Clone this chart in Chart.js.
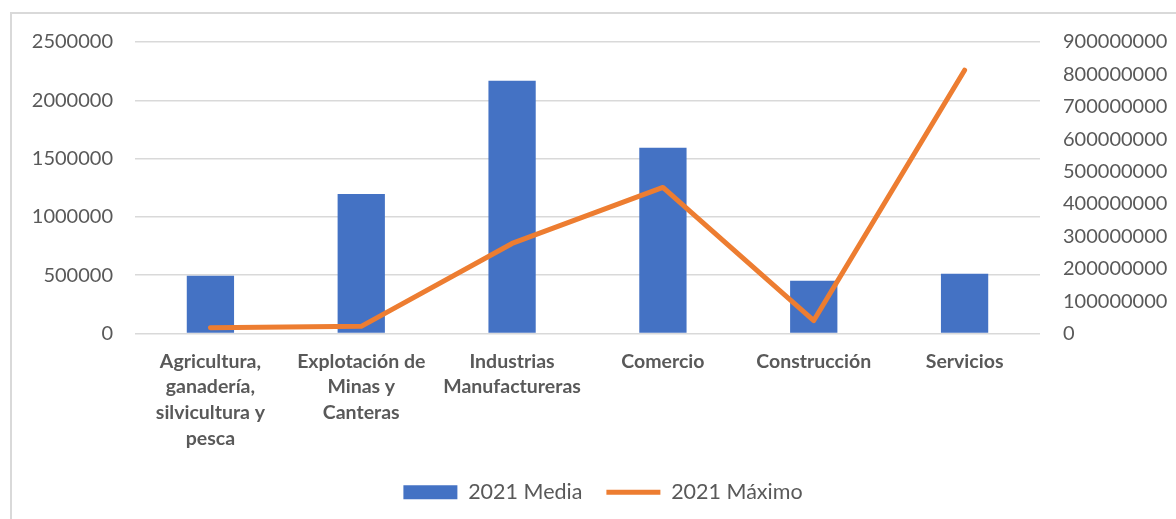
<!DOCTYPE html>
<html>
<head>
<meta charset="utf-8">
<script src="https://cdn.jsdelivr.net/npm/chart.js@4"></script>
<style>
    html, body { margin: 0; padding: 0; background: #fff; overflow: hidden; }
    .frame { position: absolute; left: 10px; top: 12px; width: 1300px; height: 600px; border: 2px solid #d9d9d9; }
    .chart-box { position: absolute; left: 0; top: 0; width: 1176px; height: 519px; }
</style>
</head>
<body>
<div class="frame"></div>
<div class="chart-box"><canvas id="chart"></canvas></div>
<script>
// chart data
const categories = [
    ['Agricultura,', 'ganadería,', 'silvicultura y', 'pesca'],
    ['Explotación de', 'Minas y', 'Canteras'],
    ['Industrias', 'Manufactureras'],
    ['Comercio'],
    ['Construcción'],
    ['Servicios']
];
const mediaValues = [495000, 1196000, 2168000, 1593000, 453000, 513000];
const maximoValues = [17600000, 22000000, 278000000, 451000000, 40000000, 813000000];
const leftTicks = [0, 500000, 1000000, 1500000, 2000000, 2500000];
const rightTicks = [0, 100000000, 200000000, 300000000, 400000000, 500000000, 600000000, 700000000, 800000000, 900000000];

const textColor = '#595959';
const gridColor = '#d9d9d9';

new Chart(document.getElementById('chart'), {
    type: 'bar',
    data: {
        labels: categories,
        datasets: [
            {
                label: '2021 Media',
                data: mediaValues,
                backgroundColor: '#4472C4',
                borderWidth: 0,
                yAxisID: 'y',
                order: 2,
                categoryPercentage: 1,
                barPercentage: 0.3135,
                pointStyle: 'rect'
            },
            {
                type: 'line',
                label: '2021 Máximo',
                data: maximoValues,
                borderColor: '#ED7D31',
                backgroundColor: '#ED7D31',
                borderWidth: 5,
                borderCapStyle: 'round',
                borderJoinStyle: 'round',
                pointRadius: 0,
                tension: 0,
                yAxisID: 'y1',
                order: 1,
                pointStyle: 'line'
            }
        ]
    },
    options: {
        responsive: true,
        maintainAspectRatio: false,
        animation: false,
        layout: { padding: { top: 42, bottom: 6, left: 30, right: 0 } },
        plugins: {
            tooltip: { enabled: false },
            legend: {
                position: 'bottom',
                labels: {
                    // keep bar first, like the original
                    generateLabels: (chart) => Chart.defaults.plugins.legend.labels.generateLabels(chart)
                        .sort((a, b) => a.datasetIndex - b.datasetIndex),
                    usePointStyle: true,
                    pointStyleWidth: 54,
                    boxHeight: 14,
                    padding: 24,
                    color: textColor,
                    font: { family: 'Lato', size: 21.5 }
                }
            }
        },
        scales: {
            x: {
                grid: { display: false },
                border: { display: false },
                afterFit: (scale) => { scale.height = 124; },
                ticks: {
                    color: textColor,
                    autoSkip: false,
                    maxRotation: 0,
                    padding: 7,
                    font: { family: 'Lato', size: 19.5, weight: 'bold', lineHeight: 1.32 }
                }
            },
            y: {
                position: 'left',
                min: 0,
                max: 2500000,
                afterFit: (scale) => { scale.width = 105; },
                afterBuildTicks: (scale) => { scale.ticks = leftTicks.map(v => ({ value: v })); },
                grid: { color: gridColor, lineWidth: 1.5, drawTicks: false },
                border: { display: false },
                ticks: {
                    color: textColor,
                    padding: 22,
                    callback: (v) => String(v),
                    font: { family: 'Lato', size: 20 }
                }
            },
            y1: {
                position: 'right',
                min: 0,
                max: 900000000,
                afterFit: (scale) => { scale.width = 136; },
                afterBuildTicks: (scale) => { scale.ticks = rightTicks.map(v => ({ value: v })); },
                grid: { display: false, drawTicks: false },
                border: { display: false },
                ticks: {
                    color: textColor,
                    padding: 23,
                    callback: (v) => String(v),
                    font: { family: 'Lato', size: 20 }
                }
            }
        }
    }
});
</script>
</body>
</html>
